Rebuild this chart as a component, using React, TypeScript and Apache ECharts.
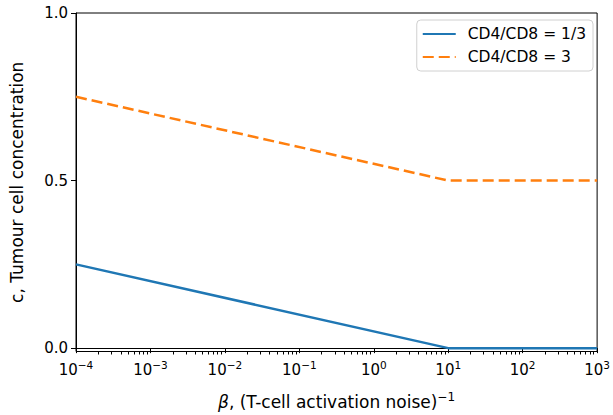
import React, { useEffect, useRef } from "react";
import * as echarts from "echarts";

const betaValues = [1e-4, 10, 1000];
const seriesLow = [0.25, 0, 0];
const seriesHigh = [0.75, 0.5, 0.5];
const seriesNames = ["CD4/CD8 = 1/3", "CD4/CD8 = 3"];
const xMajorTicks = [1e-4, 1e-3, 1e-2, 1e-1, 1, 10, 100, 1000];
const yTicks = [0, 0.5, 1];

const minorTicks: number[] = [];
for (let e = -4; e < 3; e++) {
  for (let m = 2; m <= 9; m++) minorTicks.push(m * Math.pow(10, e));
}

const FONT = "DejaVu Sans";

export default function App() {
  const ref = useRef<HTMLDivElement>(null);
  useEffect(() => {
    if (!ref.current) return;
    const chart = echarts.init(ref.current, null, { renderer: "svg" });
    const xBase = {
      type: "log" as const,
      logBase: 10,
      min: 1e-4,
      max: 1000,
      splitLine: { show: false },
    };
    chart.setOption({
      animation: false,
      textStyle: { fontFamily: FONT },
      grid: {
        left: 75,
        right: 13,
        top: 13,
        bottom: 63,
        show: true,
        borderColor: "#000",
        borderWidth: 1,
        backgroundColor: "transparent",
      },
      legend: {
        data: seriesNames,
        orient: "vertical",
        right: 20,
        top: 20,
        align: "left",
        itemWidth: 33,
        itemHeight: 10,
        itemGap: 5,
        padding: [5, 7, 5, 5],
        borderColor: "#d0d0d0",
        borderWidth: 1,
        borderRadius: 4,
        backgroundColor: "#fff",
        itemStyle: { opacity: 0 },
        textStyle: { fontFamily: FONT, fontSize: 15.5, color: "#000", lineHeight: 18, padding: [0, 0, 0, 7] },
      },
      xAxis: [
        {
          ...xBase,
          position: "bottom",
          name: "{i|β}, (T-cell activation noise){sup|−1}",
          nameLocation: "middle",
          nameGap: 39,
          nameTextStyle: {
            fontFamily: FONT,
            fontSize: 17,
            color: "#000",
            rich: {
              i: { fontFamily: FONT, fontSize: 17, fontStyle: "italic", color: "#000" },
              sup: { fontFamily: FONT, fontSize: 12, color: "#000", padding: [0, 0, 10, 0] },
            },
          },
          axisLine: { show: true, lineStyle: { color: "#000", width: 1 } },
          axisTick: { show: true, length: 5, lineStyle: { color: "#000" }, customValues: xMajorTicks },
          axisLabel: {
            customValues: xMajorTicks,
            margin: 8,
            color: "#000",
            fontFamily: FONT,
            fontSize: 15,
            formatter: (v: number) => {
              const e = Math.round(Math.log10(v));
              return "10{sup|" + (e < 0 ? "−" + -e : "" + e) + "}";
            },
            rich: {
              sup: { fontSize: 10.5, fontFamily: FONT, color: "#000", padding: [0, 0, 9, 0] },
            },
          },
        },
        {
          ...xBase,
          position: "bottom",
          axisLine: { show: false },
          axisLabel: { show: false },
          axisTick: { show: true, length: 3, lineStyle: { color: "#000" }, customValues: minorTicks },
        },
      ],
      yAxis: {
        type: "value",
        min: -0.01,
        max: 1,
        splitLine: { show: false },
        name: "c, Tumour cell concentration",
        nameLocation: "middle",
        nameGap: 51,
        nameTextStyle: { fontFamily: FONT, fontSize: 17, color: "#000" },
        axisLine: { show: true, lineStyle: { color: "#000", width: 1 } },
        axisTick: { show: true, length: 5, lineStyle: { color: "#000" }, customValues: yTicks },
        axisLabel: {
          customValues: yTicks,
          margin: 8,
          color: "#000",
          fontFamily: FONT,
          fontSize: 15,
          formatter: (v: number) => v.toFixed(1),
        },
      },
      series: [
        {
          name: seriesNames[0],
          type: "line",
          xAxisIndex: 0,
          data: betaValues.map((x, i) => [x, seriesLow[i]]),
          symbol: "none",
          lineStyle: { color: "#1f77b4", width: 2.5 },
          itemStyle: { color: "#1f77b4" },
        },
        {
          name: seriesNames[1],
          type: "line",
          xAxisIndex: 0,
          data: betaValues.map((x, i) => [x, seriesHigh[i]]),
          symbol: "none",
          lineStyle: { color: "#ff7f0e", width: 2.5, type: [11, 5] },
          itemStyle: { color: "#ff7f0e" },
        },
      ],
    });
    return () => chart.dispose();
  }, []);
  return <div ref={ref} style={{ width: 613, height: 415, position: "absolute", left: 0, top: 0 }} />;
}
